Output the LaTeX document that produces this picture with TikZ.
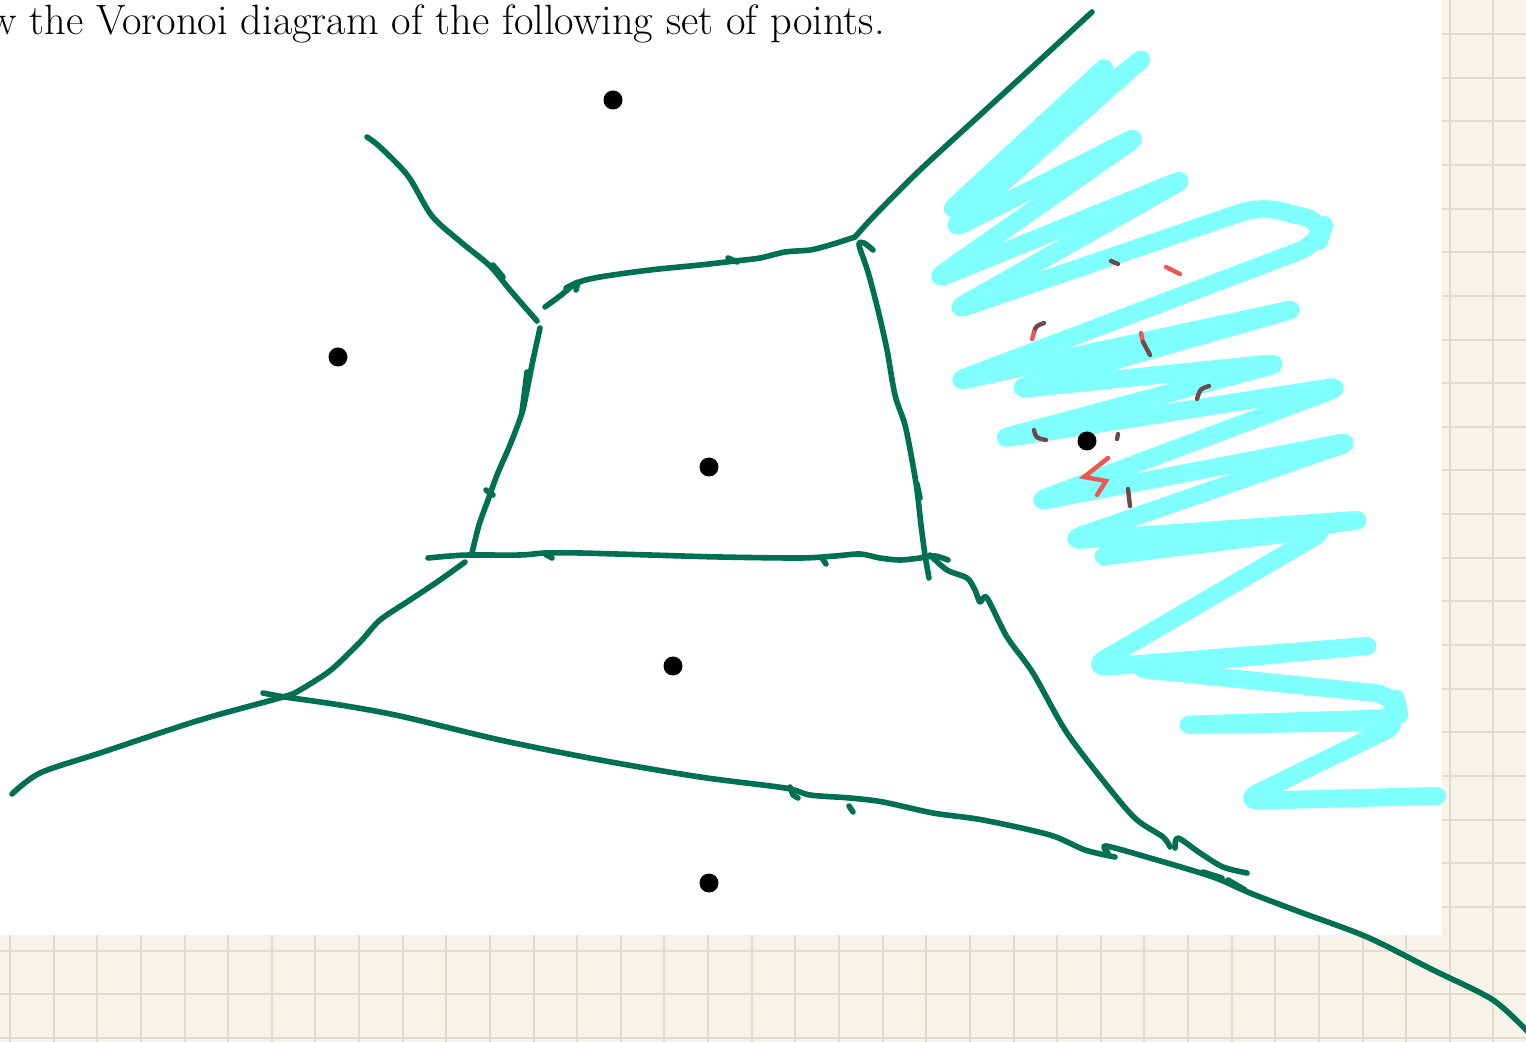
\documentclass[tikz,border=0pt]{standalone}
\usepackage{tikz}
\usetikzlibrary{calc}
\definecolor{inkgreen}{RGB}{0,112,82}
\definecolor{hilite}{RGB}{128,255,255}
\definecolor{paper}{RGB}{246,244,232}
\definecolor{gridline}{RGB}{222,221,206}
\definecolor{inkbrown}{RGB}{110,74,74}
\definecolor{inkred}{RGB}{240,84,84}
\tikzset{
  ink/.style={draw=inkgreen, line width=2.8pt, line cap=round, line join=round},
  scribble/.style={draw=hilite, line width=9pt, line cap=round, line join=round, rounded corners=10pt},
  brownmark/.style={draw=inkbrown, line width=2.2pt, line cap=round},
  redmark/.style={draw=inkred, line width=2.2pt, line cap=round},
  site/.style={circle, fill=black, inner sep=0pt, minimum size=9.5pt}
}
\begin{document}
\begin{tikzpicture}[x=0.5pt, y=-0.5pt]
  \useasboundingbox (0,0) rectangle (1526,1042);
  % paper with grid
  \fill[paper] (0,0) rectangle (1526,1042);
  \foreach \i in {0,...,34}
    \draw[gridline, line width=1pt] ({10+43.63*\i},0) -- ({10+43.63*\i},1042);
  \foreach \j in {0,...,23}
    \draw[gridline, line width=1pt] (0,{34+43.65*\j}) -- (1526,{34+43.65*\j});
  % pasted exercise sheet
  \fill[white] (0,0) rectangle (1442,935);
  \node[anchor=base west, inner sep=0pt, text=black, font=\fontsize{21.2}{24}\selectfont] (task) at (-12,35) {w the Voronoi diagram of the following set of points.};

  % highlighter scribble
  \draw[scribble] (1104,68) -- (944,216) -- (1150,52) -- (947,232) -- (1143,133) -- (930,282)
    -- (1190,176) -- (950,312) -- (1260,206) -- (1325,222) -- (1318,244) -- (950,383)
    -- (1302,307) -- (1011,390) -- (1285,362) -- (994,440) -- (1346,385) -- (1031,503)
    -- (1356,440) -- (1065,541) -- (1369,519) -- (1092,558) -- (1330,528) -- (1089,668)
    -- (1379,645) -- (1130,668) -- (1395,695) -- (1400,718) -- (1177,725) -- (1403,722)
    -- (1241,801) -- (1437,796);

  % sites
  \node[site] (s1) at (613,100) {};
  \node[site] (s2) at (338,357) {};
  \node[site] (s3) at (709,467) {};
  \node[site] (s4) at (1087,441) {};
  \node[site] (s5) at (673,666) {};
  \node[site] (s6) at (709,883) {};

  % marks round the crossed out site
  \draw[brownmark] (1111,261) -- (1118,264);
  \draw[redmark] (1166,267) -- (1180,274);
  \draw[brownmark] (1044,323) .. controls (1036,326) .. (1034,332);
  \draw[redmark] (1034,332) -- (1032,339);
  \draw[redmark] (1141,333) -- (1143,342);
  \draw[brownmark] (1143,342) -- (1150,355);
  \draw[brownmark] (1209,386) .. controls (1200,389) .. (1197,399);
  \draw[brownmark] (1034,430) .. controls (1036,438) .. (1046,440);
  \draw[brownmark] (1118,434) -- (1117,439);
  \draw[redmark] (1108,458) -- (1084,477) -- (1106,481) -- (1097,495);
  \draw[brownmark] (1128,489) -- (1130,506);

  % Voronoi edges, by hand
  \draw[ink] plot[smooth] coordinates {(367,137) (380,147) (408,176) (432,216) (462,243) (490,266) (510,290) (537,321)};
  \draw[ink] (493,265) -- (503,277);
  \draw[ink] plot[smooth] coordinates {(540,328) (533,360) (527,390) (522,413) (510,445) (497,475) (488,500) (479,525) (472,553)};
  \draw[ink] (527,372) -- (522,412);
  \draw[ink] (486,490) -- (493,495);
  \draw[ink] plot[smooth] coordinates {(545,307) (560,296) (577,283) (600,277) (650,270) (700,265) (735,261) (760,258) (785,252) (810,250) (830,245) (855,237)};
  \draw[ink] (566,288) -- (578,282) -- (576,290);
  \draw[ink] (728,258) -- (737,262);
  \draw[ink] plot[smooth] coordinates {(855,237) (875,215) (920,170) (980,115) (1040,60) (1092,12)};
  \draw[ink] plot[smooth] coordinates {(873,250) (864,243) (859,245) (868,272) (878,310) (887,350) (895,395) (905,425) (912,460) (917,490) (921,525) (925,555) (929,578)};
  \draw[ink] (917,484) -- (920,498);
  \draw[ink] plot[smooth] coordinates {(428,558) (450,556) (470,555) (520,555) (545,553) (580,553) (650,555) (720,557) (800,558) (835,556) (860,554) (880,558) (900,560) (920,558) (935,556) (948,560)};
  \draw[ink] (545,554) -- (552,558);
  \draw[ink] (822,558) -- (826,564);
  \draw[ink] plot[smooth] coordinates {(465,562) (440,580) (410,600) (380,620) (362,640) (342,660) (327,673) (300,690) (283,697) (200,720) (100,753) (40,773) (12,794)};
  \draw[ink] plot[smooth] coordinates {(263,693) (285,697) (340,705) (400,716) (500,740) (600,760) (700,777) (785,788) (810,795) (850,798) (883,802) (933,813) (983,820) (1050,835) (1085,850) (1115,857)};
  \draw[ink] (790,787) -- (793,795) -- (798,798);
  \draw[ink] (849,806) -- (853,812);
  \draw[ink] plot[smooth] coordinates {(930,555) (947,570) (967,578) (975,590) (980,602) (987,598) (1007,637) (1033,673) (1067,733) (1113,793) (1137,820) (1163,837) (1170,847)};
  \draw[ink] plot[smooth] coordinates {(1175,848) (1178,838) (1200,853) (1223,867) (1247,873)};
  \draw[ink] plot[smooth] coordinates {(1108,853) (1106,846) (1150,858) (1213,877) (1250,893) (1300,912) (1367,937) (1433,970) (1493,1000) (1530,1034)};
  \draw[ink] (1203,872) -- (1222,878);
  \draw[ink] (1228,880) -- (1245,890);
\end{tikzpicture}
\end{document}
